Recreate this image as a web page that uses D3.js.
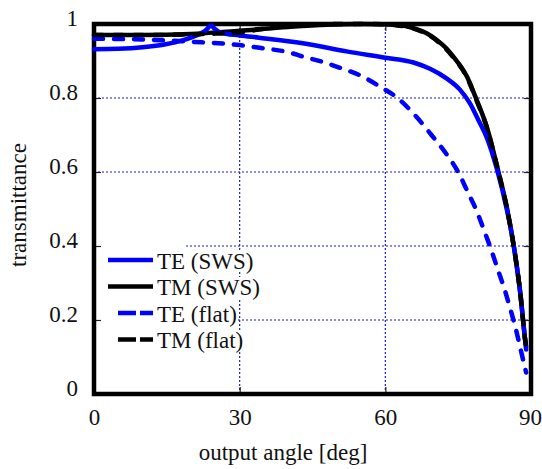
<!DOCTYPE html>
<html>
<head>
<meta charset="utf-8">
<script src="https://cdn.jsdelivr.net/npm/d3@7"></script>
<style>
  body { margin: 0; background: #fff; }
</style>
</head>
<body>
<svg id="chart" width="542" height="469"></svg>
<script>
// tick values and labels
const angleTicks = [0, 30, 60, 90];
const transTicks = [0, 0.2, 0.4, 0.6, 0.8, 1];
const transLabels = ["0", "0.2", "0.4", "0.6", "0.8", "1"];

// [output angle (deg), transmittance]
const tmSws = [[0, 0.97], [10, 0.97], [20, 0.973], [30, 0.982], [40, 0.992], [48, 0.998], [55, 1.0], [62, 0.998],
  [66, 0.988], [68.5, 0.975], [70.6, 0.957], [72.5, 0.935], [74, 0.912], [76.8, 0.858], [78.8, 0.795],
  [80.9, 0.722], [83.3, 0.60], [85, 0.506], [86.4, 0.403], [87.8, 0.273], [88.8, 0.146], [89, 0.128]];

const teSws = [[0, 0.932], [5, 0.933], [10, 0.937], [15, 0.946], [18, 0.955], [20.5, 0.966], [22.5, 0.978],
  [23.4, 0.988], [24.1, 0.996], [24.8, 0.988], [26, 0.977], [30, 0.969], [34, 0.963], [43, 0.948], [52, 0.926],
  [60, 0.909], [65.8, 0.896], [69.2, 0.879], [72.6, 0.853], [75.4, 0.822], [77.4, 0.786], [79.1, 0.742],
  [80.9, 0.693], [83, 0.607], [85, 0.5], [86.5, 0.398], [87.8, 0.27], [88.8, 0.145], [89, 0.12]];

const teFlat = [[0, 0.96], [10, 0.958], [20, 0.952], [30, 0.943], [35, 0.934], [40, 0.924], [43, 0.912],
  [47, 0.898], [51, 0.88], [55, 0.86], [59, 0.83], [62.5, 0.80], [66, 0.755], [69.5, 0.70], [72.5, 0.65],
  [75, 0.60], [77, 0.545], [78.8, 0.495], [80.4, 0.44], [81.8, 0.39], [83.2, 0.335], [84.5, 0.285],
  [85.7, 0.232], [86.8, 0.18], [87.7, 0.13], [88.5, 0.085], [89, 0.058]];

const tmFlat = [[0, 0.97], [10, 0.97], [20, 0.972], [25, 0.974], [30, 0.977], [34, 0.985], [38, 0.992],
  [43, 0.998], [50, 1.0], [58, 1.0], [62, 0.997], [66, 0.987], [70.6, 0.955], [74, 0.91], [76.8, 0.856],
  [78.8, 0.793], [80.9, 0.72], [83.3, 0.6], [85, 0.505], [86.4, 0.402], [87.8, 0.272], [88.8, 0.146], [89, 0.128]];

const seriesNames = ["TE (SWS)", "TM (SWS)", "TE (flat)", "TM (flat)"];

var svg = d3.select("#chart");

const plotLeft = 94, plotRight = 531, plotTop = 24, plotBottom = 394;
const fontSize = 23;
const serif = "'Liberation Serif', 'Times New Roman', Times, 'DejaVu Serif', serif";

var x = d3.scaleLinear().domain([0, 90]).range([plotLeft, plotRight]);
var y = d3.scaleLinear().domain([0, 1]).range([plotBottom, plotTop]);

var setFont = (sel) => {
  sel.attr("font-family", serif)
    .style("font-family", serif)
    .style("font-size", fontSize + "px")
    .attr("fill", "#111");
}

// dotted blue grid
var grid = svg.append("g").attr("class", "grid");
grid.selectAll("line.h")
  .data(transTicks.filter(d => d > 0 && d < 1))
  .enter().append("line")
  .attr("class", "h")
  .attr("x1", plotLeft).attr("x2", plotRight)
  .attr("y1", d => y(d)).attr("y2", d => y(d));
grid.selectAll("line.v")
  .data(angleTicks.filter(d => d > 0 && d < 90))
  .enter().append("line")
  .attr("class", "v")
  .attr("x1", d => x(d)).attr("x2", d => x(d))
  .attr("y1", plotTop).attr("y2", plotBottom);
grid.selectAll("line")
  .attr("stroke", "#1a1ad0")
  .attr("stroke-width", 1.2)
  .attr("stroke-dasharray", "2,2");

// white patch behind the legend
svg.append("rect")
  .attr("x", 97).attr("y", 242).attr("width", 88).attr("height", 114)
  .attr("fill", "#fff");

// inward tick marks on all four sides
var tickSides = [
  { axis: d3.axisRight(y).tickValues(transTicks), tr: "translate(" + plotLeft + ",0)" },
  { axis: d3.axisLeft(y).tickValues(transTicks), tr: "translate(" + plotRight + ",0)" },
  { axis: d3.axisTop(x).tickValues(angleTicks), tr: "translate(0," + plotBottom + ")" },
  { axis: d3.axisBottom(x).tickValues(angleTicks), tr: "translate(0," + plotTop + ")" }
];
tickSides.forEach(s => {
  var g = svg.append("g").attr("transform", s.tr).call(s.axis.tickSize(7).tickFormat(""));
  g.select(".domain").remove();
  g.selectAll("line").attr("stroke", "#222").attr("stroke-width", 1.2);
});

// frame
svg.append("rect")
  .attr("x", plotLeft).attr("y", plotTop)
  .attr("width", plotRight - plotLeft).attr("height", plotBottom - plotTop)
  .attr("fill", "none").attr("stroke", "#000").attr("stroke-width", 4.5);

// tick labels
var yAxis = svg.append("g")
  .attr("transform", "translate(78,0)")
  .call(d3.axisLeft(y).tickValues(transTicks).tickSize(0).tickPadding(0)
    .tickFormat((d, i) => transLabels[i]));
yAxis.select(".domain").remove();
yAxis.attr("font-family", serif);
yAxis.selectAll("text").attr("dy", "0.05em").call(setFont);

var xAxis = svg.append("g")
  .attr("transform", "translate(0," + plotBottom + ")")
  .call(d3.axisBottom(x).tickValues(angleTicks).tickSize(0).tickPadding(0));
xAxis.select(".domain").remove();
xAxis.attr("font-family", serif);
xAxis.selectAll("text").attr("y", 31).attr("dy", 0).call(setFont);
xAxis.selectAll(".tick").filter(d => d === 90).select("text").attr("dx", -1);

// axis titles
svg.append("text")
  .attr("x", 283).attr("y", 460)
  .attr("text-anchor", "middle")
  .call(setFont)
  .text("output angle [deg]");

svg.append("text")
  .attr("transform", "translate(26,205)rotate(-90)")
  .attr("text-anchor", "middle")
  .call(setFont)
  .text("transmittance");

// curves
var line = d3.line()
  .x(d => x(d[0]))
  .y(d => y(d[1]))
  .curve(d3.curveMonotoneX);

var curves = [
  { data: tmSws, color: "#000", dash: null },
  { data: teSws, color: "#0000ff", dash: null },
  { data: teFlat, color: "#0000ff", dash: "9,11" },
  { data: tmFlat, color: "#000", dash: "9,11" }
];
curves.forEach(c => {
  svg.append("path")
    .attr("d", line(c.data))
    .attr("fill", "none")
    .attr("stroke", c.color)
    .attr("stroke-width", 4.5)
    .attr("stroke-linecap", "round")
    .attr("stroke-linejoin", "round")
    .attr("stroke-dasharray", c.dash);
});

// legend
var legendItems = [
  { name: seriesNames[0], color: "#0000ff", dash: null, x1: 108 },
  { name: seriesNames[1], color: "#000", dash: null, x1: 108 },
  { name: seriesNames[2], color: "#0000ff", dash: "18,4", x1: 118 },
  { name: seriesNames[3], color: "#000", dash: "18,4", x1: 118 }
];
var legend = svg.append("g").attr("class", "legend");
legendItems.forEach((item, i) => {
  var ly = 260 + i * 26.5;
  var t = legend.append("text")
    .attr("x", 157).attr("y", ly + 8.5)
    .call(setFont)
    .text(item.name);
  var bb = t.node().getBBox();
  legend.insert("rect", "text")
    .attr("x", bb.x).attr("y", bb.y + 2)
    .attr("width", bb.width).attr("height", bb.height - 4)
    .attr("fill", "#fff");
  legend.append("line")
    .attr("x1", item.x1).attr("x2", 153)
    .attr("y1", ly).attr("y2", ly)
    .attr("stroke", item.color)
    .attr("stroke-width", 4.5)
    .attr("stroke-dasharray", item.dash);
});
</script>
</body>
</html>
